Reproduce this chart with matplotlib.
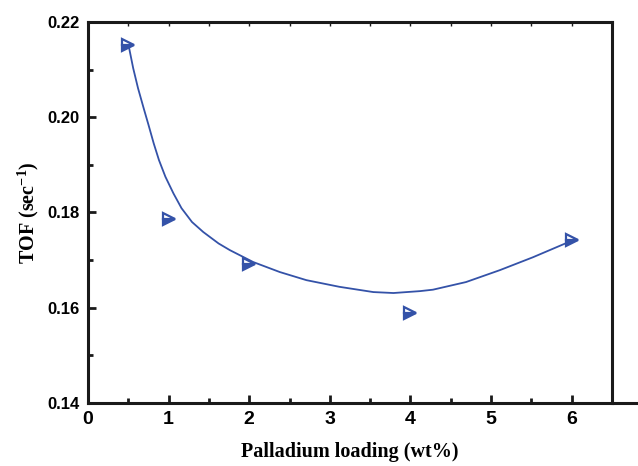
import numpy as np
import matplotlib
matplotlib.use("Agg")
import matplotlib.pyplot as plt
from matplotlib.ticker import MultipleLocator

plt.rcParams["mathtext.fontset"] = "custom"
plt.rcParams["mathtext.rm"] = "Liberation Serif"
plt.rcParams["mathtext.bf"] = "Liberation Serif:bold"

# measured TOF values
pd_loading = [0.5, 1.0, 2.0, 4.0, 6.0]
tof = [0.2152, 0.1786, 0.1692, 0.1590, 0.1743]

# fitted curve
curve_x = [0.51, 0.56, 0.62, 0.69, 0.75, 0.815, 0.88, 0.96, 1.06, 1.16, 1.29,
           1.43, 1.62, 1.76, 2.05, 2.38, 2.71, 3.12, 3.54, 3.79, 4.12, 4.28,
           4.69, 5.11, 5.52, 6.02]
curve_y = [0.2145, 0.2103, 0.2061, 0.2019, 0.1984, 0.1945, 0.1910, 0.1875,
           0.1840, 0.1809, 0.1780, 0.1759, 0.1735, 0.1721, 0.1696, 0.1675,
           0.1658, 0.1644, 0.1633, 0.1631, 0.1635, 0.1638, 0.1654, 0.1679,
           0.1706, 0.1742]

blue = "#3452a8"
dark = "#1a1a1a"

fig = plt.figure(figsize=(6.38, 4.66), dpi=100)
ax = fig.add_axes([0.138, 0.135, 0.821, 0.818])

ax.plot(curve_x, curve_y, color=blue, lw=1.3, solid_joinstyle="round")
ax.plot(pd_loading, tof, ">", ms=9, fillstyle="bottom", mfc=blue,
        mfcalt="white", mec=blue, mew=1.6)

ax.set_xlim(0, 6.5)
ax.set_ylim(0.14, 0.22)
ax.xaxis.set_major_locator(MultipleLocator(1))
ax.xaxis.set_minor_locator(MultipleLocator(0.5))
ax.yaxis.set_major_locator(MultipleLocator(0.02))
ax.yaxis.set_minor_locator(MultipleLocator(0.01))
ax.yaxis.set_major_formatter(plt.FuncFormatter(lambda v, p: f"{v:.2f}"))

for s in ax.spines.values():
    s.set_linewidth(2.2)
    s.set_color(dark)

# bottom axis line runs on past the frame
ax.plot([6.5, 6.82], [0.14, 0.14], color=dark, lw=2.2, clip_on=False,
        solid_capstyle="butt")

ax.tick_params(which="major", direction="in", length=6, width=2, color=dark,
               top=True, right=False, pad=6)
ax.tick_params(which="minor", direction="in", length=3.5, width=2, color=dark,
               top=True, right=False)
# faint ticks along the top
for t in ax.xaxis.get_ticklines(minor=False)[1::2] + ax.xaxis.get_ticklines(minor=True)[1::2]:
    t.set_color("#999999")
    t.set_markeredgewidth(1)
    t.set_markersize(3)

for lab in ax.get_xticklabels():
    lab.set_fontfamily("Liberation Sans")
    lab.set_fontweight("bold")
    lab.set_fontsize(14)
for lab in ax.get_yticklabels():
    lab.set_fontfamily("Liberation Sans")
    lab.set_fontweight("bold")
    lab.set_fontsize(12)

ax.set_xlabel("Palladium loading (wt%)", fontfamily="Liberation Serif",
              fontweight="bold", fontsize=14.5, labelpad=10)
ax.set_ylabel(r"TOF (sec$^{\mathbf{-1}}$)", fontfamily="Liberation Serif",
              fontweight="bold", fontsize=14.5, labelpad=5)

fig.savefig("out.png", dpi=100)
